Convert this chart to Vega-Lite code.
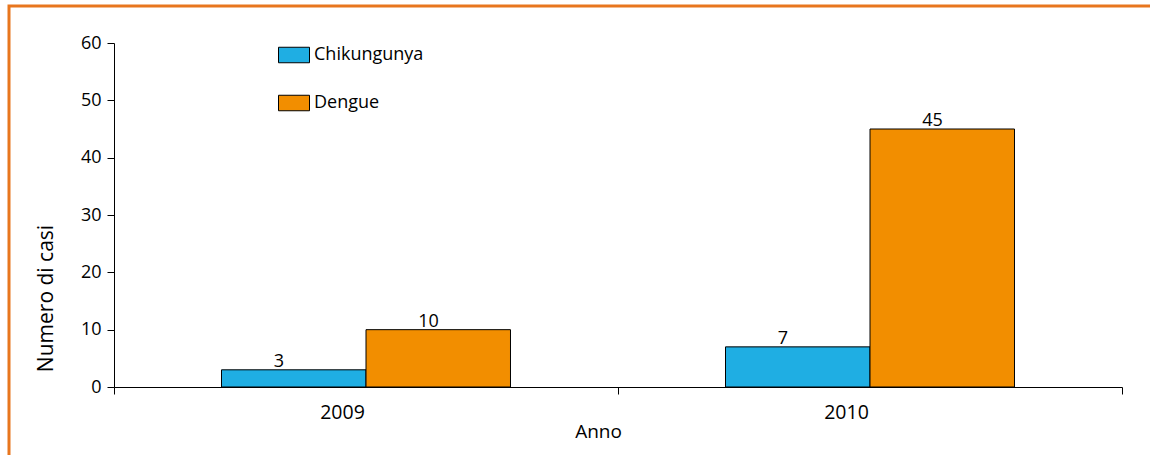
{
  "$schema": "https://vega.github.io/schema/vega-lite/v6.json",
  "width": 1141,
  "height": 449,
  "autosize": {"type": "none"},
  "padding": {"left": 9, "top": 6, "right": 0, "bottom": 0},
  "background": "white",
  "config": {
    "font": "Open Sans",
    "view": {"stroke": "#E8761E", "strokeWidth": 3, "strokeDash": [1141, 1590, 449]},
    "axis": {"grid": false, "domainColor": "#000000", "tickColor": "#000000", "labelColor": "#000000", "titleColor": "#000000", "labelFontSize": 18, "titleFontSize": 19, "titleFontWeight": "normal", "tickSize": 7, "domainWidth": 1, "tickWidth": 1}
  },
  "data": {
    "values": [
      {"Anno": "2009", "Malattia": "Chikungunya", "Casi": 3},
      {"Anno": "2009", "Malattia": "Dengue", "Casi": 10},
      {"Anno": "2010", "Malattia": "Chikungunya", "Casi": 7},
      {"Anno": "2010", "Malattia": "Dengue", "Casi": 45}
    ]
  },
  "encoding": {
    "x": {
      "field": "Anno", "type": "nominal",
      "scale": {"range": [105, 1113], "paddingInner": 0, "paddingOuter": 0},
      "axis": {"title": "Anno", "offset": -68, "labelAngle": 0, "tickBand": "extent", "labelPadding": 9, "labelFontSize": 19.5, "labelOffset": -24, "titleX": 589, "titleY": 35, "titleBaseline": "top"}
    },
    "xOffset": {"field": "Malattia", "type": "nominal", "sort": ["Chikungunya", "Dengue"], "scale": {"paddingOuter": 0.744, "paddingInner": 0}},
    "y": {
      "field": "Casi", "type": "quantitative",
      "scale": {"domain": [0, 60], "range": [381, 37], "nice": false},
      "axis": {"title": "Numero di casi", "offset": -105, "values": [0, 10, 20, 30, 40, 50, 60], "labelPadding": 6, "titleFontSize": 21, "titleX": -68, "titleY": 292, "titleAngle": 270, "titleBaseline": "middle", "titleAlign": "center"}
    }
  },
  "layer": [
    {
      "mark": {"type": "bar", "stroke": "#000000", "strokeWidth": 1},
      "encoding": {
        "color": {
          "field": "Malattia", "type": "nominal",
          "scale": {"domain": ["Chikungunya", "Dengue"], "range": ["#1FAEE3", "#F28E00"]},
          "legend": {"title": null, "orient": "none", "legendX": 269, "legendY": 33, "padding": 0, "symbolType": "M-1,-0.5H1V0.5H-1Z", "symbolSize": 961, "symbolStrokeColor": "#000000", "symbolStrokeWidth": 1, "symbolOpacity": 1, "labelFontSize": 18, "labelColor": "#000000", "labelOffset": 4, "rowPadding": 22}
        }
      }
    },
    {
      "mark": {"type": "text", "align": "left", "baseline": "alphabetic", "dx": -20, "dy": -3, "fontSize": 18, "color": "#000000"},
      "encoding": {"text": {"field": "Casi", "type": "quantitative"}}
    }
  ]
}
